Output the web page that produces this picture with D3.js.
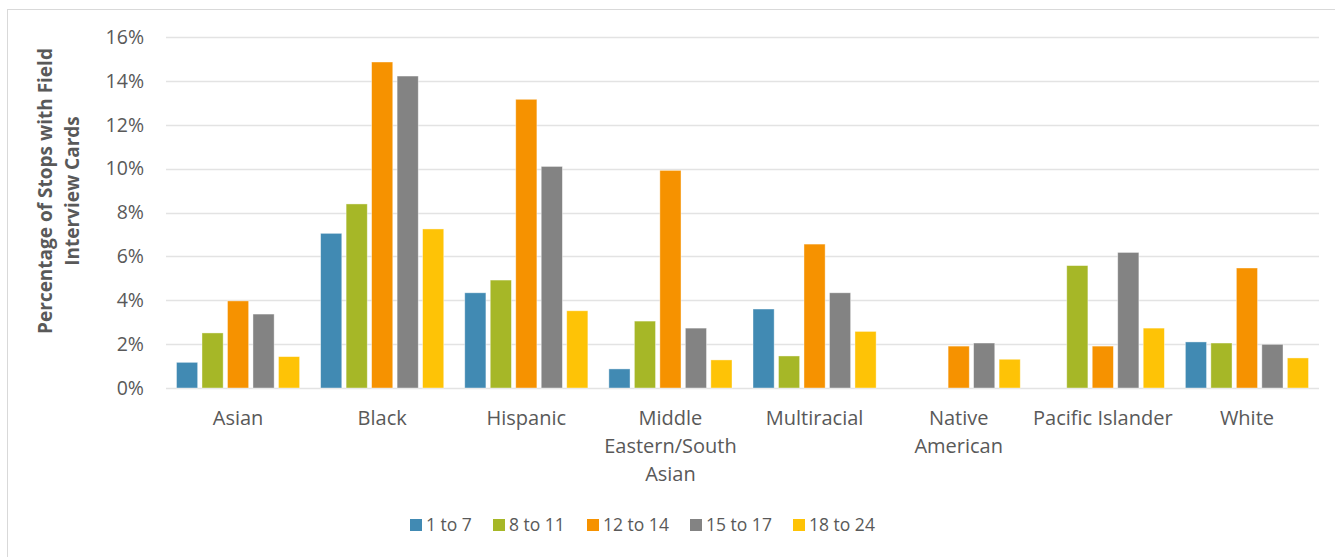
<!DOCTYPE html>
<html>
<head>
<meta charset="utf-8">
<script src="https://cdn.jsdelivr.net/npm/d3@7"></script>
<style>
  body { margin: 0; background: #fff; }
  text { font-family: "Open Sans", "Noto Sans", sans-serif; fill: #595959; }
</style>
</head>
<body>
<div id="chart"></div>
<script>
// chart data
var categories = ["Asian", "Black", "Hispanic", "Middle Eastern/South Asian",
  "Multiracial", "Native American", "Pacific Islander", "White"];
var seriesNames = ["1 to 7", "8 to 11", "12 to 14", "15 to 17", "18 to 24"];
var age1to7   = [1.17, 7.05, 4.34, 0.87, 3.60, null, null, 2.10];
var age8to11  = [2.51, 8.39, 4.92, 3.05, 1.46, null, 5.58, 2.05];
var age12to14 = [3.97, 14.86, 13.16, 9.92, 6.56, 1.91, 1.91, 5.47];
var age15to17 = [3.37, 14.22, 10.10, 2.73, 4.34, 2.05, 6.18, 1.99];
var age18to24 = [1.43, 7.25, 3.52, 1.28, 2.58, 1.31, 2.73, 1.37];
var yTicks = [0, 2, 4, 6, 8, 10, 12, 14, 16];
var colors = ["#418ab3", "#a6b727", "#f69200", "#838383", "#fec306"];

var series = [age1to7, age8to11, age12to14, age15to17, age18to24];

var width = 1335, height = 557;
var plot = { left: 166, right: 1319, top: 37, bottom: 388 };

var svg = d3.select("#chart").append("svg")
  .attr("width", width)
  .attr("height", height);

// chart frame
svg.append("rect")
  .attr("x", 7.5).attr("y", 9.5)
  .attr("width", 1340).attr("height", 560)
  .attr("fill", "none")
  .attr("stroke", "#d9d9d9")
  .attr("stroke-width", 1);

var y = d3.scaleLinear().domain([0, 16]).range([plot.bottom, plot.top]);
var x0 = d3.scaleBand().domain(categories).range([plot.left, plot.right]);
var x1 = d3.scaleBand().domain(seriesNames)
  .range([10.5, x0.bandwidth() - 10.5])
  .paddingInner(0.17);
var color = d3.scaleOrdinal().domain(seriesNames).range(colors);

// gridlines
svg.append("g")
  .selectAll("line")
  .data(yTicks)
  .enter().append("line")
  .attr("x1", plot.left).attr("x2", plot.right)
  .attr("y1", function(d) { return Math.round(y(d)) + 0.5; })
  .attr("y2", function(d) { return Math.round(y(d)) + 0.5; })
  .attr("stroke", "#e3e3e3")
  .attr("stroke-width", 1.5);

// y axis labels
var yAxis = d3.axisLeft(y).tickValues(yTicks)
  .tickFormat(function(d) { return d + "%"; })
  .tickSize(0).tickPadding(0);
var yg = svg.append("g")
  .attr("transform", "translate(144,0)")
  .call(yAxis);
yg.select(".domain").remove();
yg.selectAll("text")
  .attr("font-family", "'Open Sans', sans-serif")
  .attr("font-size", 19.5)
  .attr("fill", "#595959");

// bars
var groups = svg.append("g")
  .selectAll("g")
  .data(categories)
  .enter().append("g")
  .attr("transform", function(d) { return "translate(" + x0(d) + ",0)"; });

groups.selectAll("rect")
  .data(function(d, i) {
    return seriesNames.map(function(s, j) {
      return { key: s, value: series[j][i] };
    }).filter(function(e) { return e.value != null; });
  })
  .enter().append("rect")
  .attr("x", function(d) { return x1(d.key); })
  .attr("width", x1.bandwidth())
  .attr("y", function(d) { return y(d.value); })
  .attr("height", function(d) { return plot.bottom - y(d.value); })
  .attr("fill", function(d) { return color(d.key); })
  .attr("stroke", "#ffffff")
  .attr("stroke-opacity", 0.5)
  .attr("stroke-width", 0.8);

// x axis labels (wrapped like the original)
var xAxis = d3.axisBottom(x0).tickSize(0).tickPadding(0);
var xg = svg.append("g")
  .attr("transform", "translate(0," + plot.bottom + ")")
  .call(xAxis);
xg.select(".domain").remove();
xg.selectAll("text")
  .attr("font-family", "'Open Sans', sans-serif")
  .attr("font-size", 20)
  .attr("fill", "#595959")
  .attr("dy", null)
  .attr("y", 37)
  .each(function(d) { wrap(d3.select(this), 146); });

function wrap(textSel, maxWidth) {
  var words = textSel.text().split(/\s+/);
  var lines = [], line = [];
  textSel.text(null);
  var tspan = textSel.append("tspan").attr("x", 0);
  words.forEach(function(w) {
    line.push(w);
    tspan.text(line.join(" "));
    if (tspan.node().getComputedTextLength() > maxWidth && line.length > 1) {
      line.pop();
      lines.push(line.join(" "));
      line = [w];
      tspan.text(w);
    }
  });
  lines.push(line.join(" "));
  textSel.text(null);
  lines.forEach(function(l, i) {
    textSel.append("tspan").attr("x", 0).attr("dy", i ? 28 : 0).text(l);
  });
}

// axis title
svg.append("text")
  .attr("transform", "translate(58,191) rotate(-90)")
  .attr("text-anchor", "middle")
  .attr("font-size", 19)
  .attr("font-weight", "bold")
  .selectAll("tspan")
  .data(["Percentage of Stops with Field", "Interview Cards"])
  .enter().append("tspan")
  .attr("x", 0)
  .attr("y", function(d, i) { return i * 27 - 6; })
  .text(function(d) { return d; });

// legend
var legendX = [410, 493, 587, 690, 793];
var legend = svg.append("g")
  .selectAll("g")
  .data(seriesNames)
  .enter().append("g")
  .attr("transform", function(d, i) { return "translate(" + legendX[i] + ",519)"; });
legend.append("rect")
  .attr("width", 12).attr("height", 12)
  .attr("fill", function(d) { return color(d); });
legend.append("text")
  .attr("x", 16).attr("y", 12)
  .attr("font-size", 17.5)
  .text(function(d) { return d; });
</script>
</body>
</html>
